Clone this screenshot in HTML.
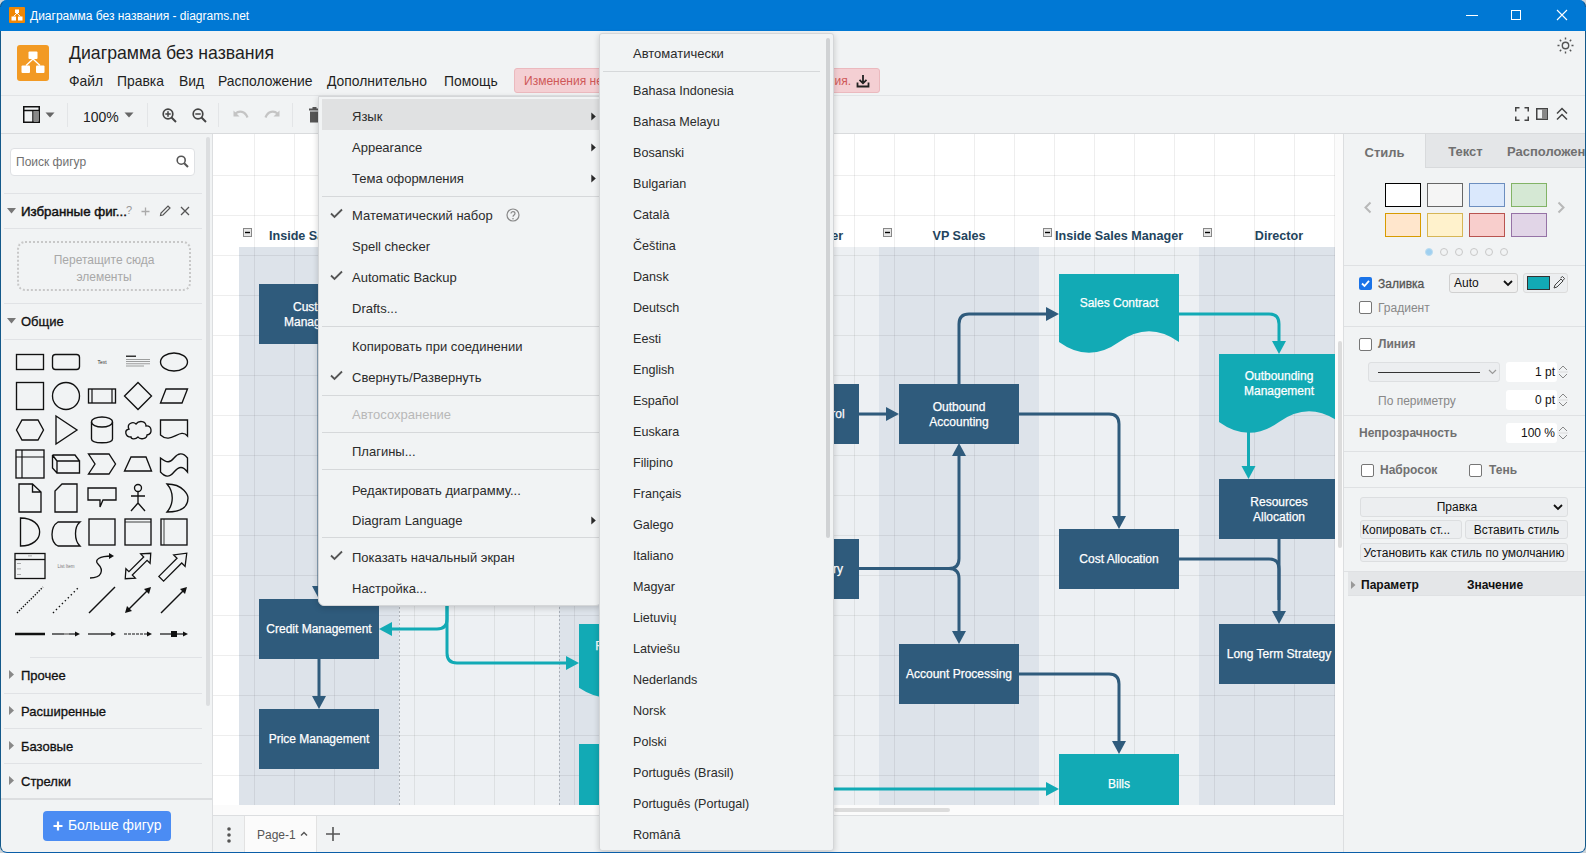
<!DOCTYPE html>
<html><head><meta charset="utf-8"><title>diagrams.net</title>
<style>
*{box-sizing:border-box;margin:0;padding:0}
html,body{width:1586px;height:853px;overflow:hidden}
body{position:relative;background:#f1f3f4;font-family:"Liberation Sans",sans-serif;color:#000}
.a{position:absolute}
.t{position:absolute;white-space:nowrap;line-height:1}
.sep{position:absolute;height:1px;background:#dadce0}
</style></head><body>
<div class="a" style="left:0;top:0;width:1586px;height:31px;background:#0078d4"></div>
<svg class="a" style="left:9px;top:7px" width="16" height="16" viewBox="0 0 16 16">
<rect x="0" y="0" width="16" height="16" rx="1" fill="#f08705"/>
<rect x="6" y="2.5" width="4" height="3.5" fill="#fff"/>
<rect x="2.5" y="9.5" width="4.5" height="4" fill="#fff"/>
<rect x="9" y="9.5" width="4.5" height="4" fill="#fff"/>
<path d="M8 6 L4.7 9.5 M8 6 L11.3 9.5" stroke="#fff" stroke-width="1"/>
</svg>
<div class="t" style="left:30px;top:10px;font-size:12px;color:#fff">Диаграмма без названия - diagrams.net</div>
<div class="a" style="left:1466px;top:15px;width:12px;height:1px;background:#fff"></div>
<div class="a" style="left:1511px;top:10px;width:10px;height:10px;border:1px solid #fff"></div>
<svg class="a" style="left:1556px;top:9px" width="12" height="12" viewBox="0 0 12 12"><path d="M1 1L11 11M11 1L1 11" stroke="#fff" stroke-width="1.1"/></svg>
<div class="a" style="left:0;top:31px;width:1586px;height:65px;background:#f1f3f4"></div>
<svg class="a" style="left:17px;top:45px" width="32" height="36" viewBox="0 0 32 36">
<rect x="0" y="0" width="32" height="36" rx="3" fill="#f29a24"/>
<rect x="11.5" y="6.5" width="9" height="7.5" rx="1" fill="#fff"/>
<rect x="4.5" y="20.5" width="8.5" height="7.5" rx="1" fill="#fff"/>
<rect x="19" y="20.5" width="8.5" height="7.5" rx="1" fill="#fff"/>
<path d="M16 14 L9 20.5 M16 14 L23 20.5" stroke="#fff" stroke-width="1.3"/>
</svg>
<div class="t" style="left:69px;top:45px;font-size:17.7px;color:#1f1f1f">Диаграмма без названия</div>
<div class="t" style="left:69px;top:75px;font-size:13.9px;color:#1f1f1f">Файл</div>
<div class="t" style="left:117px;top:75px;font-size:13.9px;color:#1f1f1f">Правка</div>
<div class="t" style="left:179px;top:75px;font-size:13.9px;color:#1f1f1f">Вид</div>
<div class="t" style="left:218px;top:75px;font-size:13.9px;color:#1f1f1f">Расположение</div>
<div class="t" style="left:327px;top:75px;font-size:13.9px;color:#1f1f1f">Дополнительно</div>
<div class="t" style="left:444px;top:75px;font-size:13.9px;color:#1f1f1f">Помощь</div>
<div class="a" style="left:514px;top:68px;width:366px;height:25px;background:#f4cfd3;border:1px solid #ebb9be;border-radius:3px"></div>
<div class="t" style="left:524px;top:75px;font-size:12px;color:#cf5858">Изменения не сохранены</div>
<div class="t" style="left:700px;top:75px;width:151px;text-align:right;font-size:12px;color:#cf5858">для сохранения.</div>
<svg class="a" style="left:856px;top:74px" width="14" height="14" viewBox="0 0 14 14"><path d="M7 1V9M3.5 5.8L7 9.3L10.5 5.8M1.5 8.5V12.5H12.5V8.5" stroke="#222" stroke-width="1.8" fill="none"/></svg>
<svg class="a" style="left:1557px;top:37px" width="17" height="17" viewBox="0 0 17 17"><circle cx="8.5" cy="8.5" r="3.2" stroke="#555" stroke-width="1.4" fill="none"/>
<g stroke="#555" stroke-width="1.4"><path d="M8.5 0.5V2.5M8.5 14.5V16.5M0.5 8.5H2.5M14.5 8.5H16.5M2.8 2.8L4.2 4.2M12.8 12.8L14.2 14.2M2.8 14.2L4.2 12.8M12.8 4.2L14.2 2.8"/></g></svg>
<div class="a" style="left:0;top:95px;width:1586px;height:1px;background:#e2e4e6"></div>
<div class="a" style="left:0;top:96px;width:1586px;height:38px;background:#f1f3f4"></div>
<div class="a" style="left:0;top:133px;width:1586px;height:1px;background:#d9dbdd"></div>
<div class="a" style="left:67px;top:103px;width:1px;height:24px;background:#e3e5e7"></div>
<div class="a" style="left:147px;top:103px;width:1px;height:24px;background:#e3e5e7"></div>
<div class="a" style="left:218px;top:103px;width:1px;height:24px;background:#e3e5e7"></div>
<div class="a" style="left:292px;top:103px;width:1px;height:24px;background:#e3e5e7"></div>
<svg class="a" style="left:23px;top:106px" width="17" height="17" viewBox="0 0 17 17"><rect x="0.75" y="0.75" width="15.5" height="15.5" fill="none" stroke="#111" stroke-width="1.5"/><path d="M0.75 4.5H16.25M10 4.5V16.25" stroke="#111" stroke-width="1.5"/><rect x="10.5" y="5" width="5" height="10.5" fill="#888"/></svg>
<svg class="a" style="left:45px;top:112px" width="10" height="6" viewBox="0 0 10 6"><path d="M0.5 0.5H9.5L5 5.5Z" fill="#666"/></svg>
<div class="t" style="left:83px;top:110px;font-size:14px;color:#222">100%</div>
<svg class="a" style="left:124px;top:112px" width="10" height="6" viewBox="0 0 10 6"><path d="M0.5 0.5H9.5L5 5.5Z" fill="#666"/></svg>
<svg class="a" style="left:162px;top:108px" width="15" height="15" viewBox="0 0 15 15"><circle cx="6" cy="6" r="4.8" fill="none" stroke="#444" stroke-width="1.7"/><path d="M9.5 9.5L14 14" stroke="#444" stroke-width="2"/><path d="M3.3 6H8.7M6 3.3V8.7" stroke="#444" stroke-width="1.5"/></svg>
<svg class="a" style="left:192px;top:108px" width="15" height="15" viewBox="0 0 15 15"><circle cx="6" cy="6" r="4.8" fill="none" stroke="#444" stroke-width="1.7"/><path d="M9.5 9.5L14 14" stroke="#444" stroke-width="2"/><path d="M3.3 6H8.7" stroke="#444" stroke-width="1.5"/></svg>
<svg class="a" style="left:233px;top:109px" width="16" height="12" viewBox="0 0 16 12"><path d="M2.5 4.5C6 1.5 12 2 14.5 8.5" stroke="#c4c4c4" stroke-width="2.2" fill="none"/><path d="M0.5 1.5V7.5H6.5Z" fill="#c4c4c4"/></svg>
<svg class="a" style="left:264px;top:109px" width="16" height="12" viewBox="0 0 16 12"><path d="M13.5 4.5C10 1.5 4 2 1.5 8.5" stroke="#c4c4c4" stroke-width="2.2" fill="none"/><path d="M15.5 1.5V7.5H9.5Z" fill="#c4c4c4"/></svg>
<svg class="a" style="left:308px;top:107px" width="13" height="16" viewBox="0 0 13 16"><rect x="1" y="1.5" width="11" height="2" fill="#555"/><rect x="4.5" y="0" width="4" height="2" fill="#555"/><rect x="2" y="4.5" width="9" height="11" fill="#555"/></svg>
<svg class="a" style="left:1515px;top:107px" width="14" height="14" viewBox="0 0 14 14"><path d="M0.75 4.5V0.75H4.5M9.5 0.75H13.25V4.5M13.25 9.5V13.25H9.5M4.5 13.25H0.75V9.5" stroke="#444" stroke-width="1.5" fill="none"/></svg>
<svg class="a" style="left:1536px;top:108px" width="12" height="12" viewBox="0 0 12 12"><rect x="0.75" y="0.75" width="10.5" height="10.5" fill="none" stroke="#444" stroke-width="1.5"/><rect x="6" y="1" width="5" height="10" fill="#888"/></svg>
<svg class="a" style="left:1556px;top:107px" width="12" height="14" viewBox="0 0 12 14"><path d="M1 6.5L6 1.5L11 6.5M1 12.5L6 7.5L11 12.5" stroke="#444" stroke-width="1.5" fill="none"/></svg>
<div class="a" style="left:0;top:134px;width:212px;height:719px;background:#f1f3f4"></div>
<div class="a" style="left:212px;top:134px;width:1px;height:719px;background:#dcdee0"></div>
<div class="a" style="left:206px;top:137px;width:4px;height:569px;background:#dcdee0;border-radius:2px"></div>
<div class="a" style="left:10px;top:148px;width:185px;height:28px;background:#fff;border:1px solid #dfe1e4;border-radius:4px"></div>
<div class="t" style="left:16px;top:156px;font-size:12px;color:#707070">Поиск фигур</div>
<svg class="a" style="left:176px;top:155px" width="13" height="13" viewBox="0 0 13 13"><circle cx="5.2" cy="5.2" r="4" fill="none" stroke="#555" stroke-width="1.6"/><path d="M8.2 8.2L12 12" stroke="#555" stroke-width="2"/></svg>
<div class="sep" style="left:4px;top:193px;width:198px;background:#e0e2e5"></div>
<div class="sep" style="left:4px;top:228px;width:198px;background:#e0e2e5"></div>
<div class="sep" style="left:4px;top:303px;width:198px;background:#e0e2e5"></div>
<div class="sep" style="left:4px;top:339px;width:198px;background:#e0e2e5"></div>
<svg class="a" style="left:7px;top:208px" width="9" height="6" viewBox="0 0 9 6"><path d="M0 0H9L4.5 5.5Z" fill="#777"/></svg>
<div class="t" style="left:21px;top:205px;font-size:13.3px;color:#111;-webkit-text-stroke:0.45px #111">Избранные фиг...</div>
<div class="t" style="left:126px;top:205px;font-size:11px;color:#999">?</div>
<svg class="a" style="left:141px;top:207px" width="9" height="9" viewBox="0 0 9 9"><path d="M4.5 0.5V8.5M0.5 4.5H8.5" stroke="#aaa" stroke-width="1.3"/></svg>
<svg class="a" style="left:159px;top:205px" width="12" height="12" viewBox="0 0 12 12"><path d="M1.5 10.5L2 8L9 1L11 3L4 10Z" fill="none" stroke="#555" stroke-width="1.2"/></svg>
<svg class="a" style="left:180px;top:206px" width="10" height="10" viewBox="0 0 10 10"><path d="M1 1L9 9M9 1L1 9" stroke="#555" stroke-width="1.3"/></svg>
<div class="a" style="left:17px;top:241px;width:174px;height:50px;border:2px dotted #c8c8c8;border-radius:8px"></div>
<div class="t" style="left:17px;top:252px;width:174px;text-align:center;font-size:12px;color:#a8a8a8;line-height:17px">Перетащите сюда<br>элементы</div>
<svg class="a" style="left:7px;top:318px" width="9" height="6" viewBox="0 0 9 6"><path d="M0 0H9L4.5 5.5Z" fill="#777"/></svg>
<div class="t" style="left:21px;top:315px;font-size:13px;color:#111;-webkit-text-stroke:0.3px #111">Общие</div>
<svg class="a" style="left:1px;top:340px" width="205" height="315" viewBox="0 340 205 315"><g transform="translate(29,362)"><rect x="-13.5" y="-7.5" width="27" height="15" stroke="#111" stroke-width="1.35" fill="none"/></g><g transform="translate(65,362)"><rect x="-13.5" y="-7.5" width="27" height="15" rx="3" stroke="#111" stroke-width="1.35" fill="none"/></g><g transform="translate(101,362)"><text x="0" y="2" font-size="5" text-anchor="middle" fill="#333" font-family="Liberation Sans">Text</text></g><g transform="translate(137,362)"><rect x="-12" y="-6.5" width="10" height="1.5" fill="#333"/><g fill="#888"><rect x="-12" y="-3" width="24" height="0.8"/><rect x="-12" y="-0.8" width="24" height="0.8"/><rect x="-12" y="1.4" width="24" height="0.8"/><rect x="-12" y="3.6" width="18" height="0.8"/></g></g><g transform="translate(173,362)"><ellipse cx="0" cy="0" rx="13.5" ry="9" stroke="#111" stroke-width="1.35" fill="none"/></g><g transform="translate(29,396)"><rect x="-13.5" y="-13.5" width="27" height="27" stroke="#111" stroke-width="1.35" fill="none"/></g><g transform="translate(65,396)"><circle cx="0" cy="0" r="13.5" stroke="#111" stroke-width="1.35" fill="none"/></g><g transform="translate(101,396)"><rect x="-13.5" y="-7" width="27" height="14" stroke="#111" stroke-width="1.35" fill="none"/><path d="M-10 -7V7M10 -7V7" stroke="#111" stroke-width="1.2"/></g><g transform="translate(137,396)"><path d="M0 -13.5L13.5 0L0 13.5L-13.5 0Z" stroke="#111" stroke-width="1.35" fill="none"/></g><g transform="translate(173,396)"><path d="M-8 -7H13.5L8 7H-13.5Z" stroke="#111" stroke-width="1.35" fill="none"/></g><g transform="translate(29,430)"><path d="M-8 -10H8L13.5 0L8 10H-8L-13.5 0Z" stroke="#111" stroke-width="1.35" fill="none"/></g><g transform="translate(65,430)"><path d="M-10 -14L11 0L-10 14Z" stroke="#111" stroke-width="1.35" fill="none"/></g><g transform="translate(101,430)"><path d="M-10.5 -8V9C-10.5 14 10.5 14 10.5 9V-8" stroke="#111" stroke-width="1.35" fill="none"/><ellipse cx="0" cy="-8" rx="10.5" ry="5" stroke="#111" stroke-width="1.35" fill="none"/></g><g transform="translate(137,430)"><path d="M-7 7C-13 7 -14 0 -9 -1C-12 -6 -5 -9 -2 -6C1 -10 8 -9 8 -4C14 -5 15 4 9 5C9 9 2 10 0 7C-3 10 -7 9 -7 7Z" stroke="#111" stroke-width="1.35" fill="none"/></g><g transform="translate(173,430)"><path d="M-13.5 -10H13.5V6C6 -3 -3 15 -13.5 5Z" stroke="#111" stroke-width="1.35" fill="none"/></g><g transform="translate(29,464)"><rect x="-14" y="-14" width="28" height="28" stroke="#111" stroke-width="1.35" fill="none" stroke-width="1.5"/><path d="M-14 -7H14M-8 -14V14" stroke="#111" stroke-width="1.2"/></g><g transform="translate(65,464)"><path d="M-9 -3H13.5V9H-9Z M-13.5 -9H9L13.5 -3M-13.5 -9V4L-9 9M-13.5 -9L-9 -3" stroke="#111" stroke-width="1.35" fill="none"/></g><g transform="translate(101,464)"><path d="M-13.5 -10H7L13.5 0L7 10H-13.5L-7 0Z" stroke="#111" stroke-width="1.35" fill="none"/></g><g transform="translate(137,464)"><path d="M-7 -7H8L13.5 7H-13.5Z" stroke="#111" stroke-width="1.35" fill="none"/></g><g transform="translate(173,464)"><path d="M-13.5 -6C-7 -1 -4 -1 0 -6C4 -11 9 -12 13.5 -6V8C9 2 5 2 0 8C-5 14 -9 13 -13.5 8Z" stroke="#111" stroke-width="1.35" fill="none"/></g><g transform="translate(29,498)"><path d="M-11 -14H2.5L11 -6V14H-11Z M2.5 -14V-6H11" stroke="#111" stroke-width="1.35" fill="none"/></g><g transform="translate(65,498)"><path d="M-4 -14H11V14H-11V-7Z" stroke="#111" stroke-width="1.35" fill="none"/></g><g transform="translate(101,498)"><path d="M-14 -10H14V2H1L-2 9V2H-14Z" stroke="#111" stroke-width="1.35" fill="none"/></g><g transform="translate(137,498)"><circle cx="0" cy="-10" r="3.5" stroke="#111" stroke-width="1.35" fill="none"/><path d="M0 -6.5V5M-7 -2H7M0 5L-7 13M0 5L7 13" stroke="#111" stroke-width="1.35" fill="none"/></g><g transform="translate(173,498)"><path d="M-7 -14C10 -14 14 -2 14 0C14 8 8 14 -7 14C0 6 0 -6 -7 -14Z" stroke="#111" stroke-width="1.35" fill="none"/></g><g transform="translate(29,532)"><path d="M-9.5 -14C16 -14 16 14 -9.5 14Z" stroke="#111" stroke-width="1.35" fill="none"/></g><g transform="translate(65,532)"><path d="M-8 -10H14C8 -5 8 8 14 14H-8C-16 10 -16 -5 -8 -10Z" stroke="#111" stroke-width="1.35" fill="none"/></g><g transform="translate(101,532)"><rect x="-13" y="-13" width="26" height="26" stroke="#111" stroke-width="1.35" fill="none"/></g><g transform="translate(137,532)"><rect x="-13" y="-13" width="26" height="26" stroke="#111" stroke-width="1.35" fill="none"/><path d="M-13 -10H13" stroke="#111" stroke-width="0.8"/></g><g transform="translate(173,532)"><rect x="-13" y="-13" width="26" height="26" stroke="#111" stroke-width="1.35" fill="none"/><path d="M-10 -13V13" stroke="#111" stroke-width="0.8"/></g><g transform="translate(29,566)"><rect x="-15" y="-12.5" width="30" height="25" stroke="#111" stroke-width="1.3" fill="none"/><path d="M-15 -6.5H15" stroke="#111" stroke-width="1.3"/><g fill="#999"><rect x="-13" y="-3" width="4" height="0.8"/><rect x="-13" y="2.5" width="4" height="0.8"/><rect x="-13" y="8" width="4" height="0.8"/><rect x="-2" y="-10.5" width="4" height="0.8"/></g></g><g transform="translate(65,566)"><text x="0" y="1.5" font-size="4.5" text-anchor="middle" fill="#777" font-family="Liberation Sans">List Item</text></g><g transform="translate(101,566)"><path d="M-12 12C0 12 2 4 -4 -2C-8 -6 -3 -10 10 -10" stroke="#111" stroke-width="1.35" fill="none"/><path d="M7 -13L12 -10L7 -7" fill="#111"/></g><g transform="translate(137,566)"><g transform="rotate(-45) scale(0.95)"><path d="M-19 0L-11 -7V-2.5H11V-7L19 0L11 7V2.5H-11V7Z" stroke="#111" stroke-width="1.35" fill="none"/></g></g><g transform="translate(173,566)"><g transform="rotate(-45) scale(0.95)"><path d="M-19 -3.5H8V-8.5L19 0L8 8.5V3.5H-19Z" stroke="#111" stroke-width="1.35" fill="none"/></g></g><g transform="translate(29,600)"><path d="M-13 13L13 -13" stroke="#111" stroke-width="1.4" stroke-dasharray="1.4,1.4"/></g><g transform="translate(65,600)"><path d="M-13 13L13 -13" stroke="#111" stroke-width="1.4" stroke-dasharray="1.4,2.8"/></g><g transform="translate(101,600)"><path d="M-13 13L13 -13" stroke="#111" stroke-width="1.4"/></g><g transform="translate(137,600)"><path d="M-10 10L10 -10" stroke="#111" stroke-width="1.4"/><path d="M-13 13L-11 6L-6 11Z M13 -13L11 -6L6 -11Z" fill="#111"/></g><g transform="translate(173,600)"><path d="M-13 13L10 -10" stroke="#111" stroke-width="1.4"/><path d="M13 -13L11 -6L6 -11Z" fill="#111"/></g><g transform="translate(29,634)"><path d="M-15 0H15" stroke="#111" stroke-width="2.5"/></g><g transform="translate(65,634)"><path d="M-14 0H11" stroke="#111" stroke-width="1.2"/><path d="M14 0L9 -2.5V2.5Z" fill="#111"/><rect x="-2" y="-1" width="5" height="2" fill="#999"/></g><g transform="translate(101,634)"><path d="M-14 0H11" stroke="#111" stroke-width="1.2"/><path d="M14 0L9 -2.5V2.5Z" fill="#111"/></g><g transform="translate(137,634)"><path d="M-14 0H11" stroke="#111" stroke-width="1.2" stroke-dasharray="3,1"/><path d="M14 0L9 -2.5V2.5Z" fill="#111"/></g><g transform="translate(173,634)"><path d="M-14 0H11" stroke="#111" stroke-width="1.2"/><path d="M14 0L9 -2.5V2.5Z" fill="#111"/><rect x="-3" y="-3" width="6" height="6" fill="#111"/></g></svg>
<div class="sep" style="left:30px;top:657px;width:172px;background:#e0e2e5"></div>
<svg class="a" style="left:9px;top:670px" width="5" height="9" viewBox="0 0 5 9"><path d="M0 0V9L5 4.5Z" fill="#888"/></svg>
<div class="t" style="left:21px;top:669px;font-size:13px;color:#111;-webkit-text-stroke:0.3px #111">Прочее</div>
<svg class="a" style="left:9px;top:706px" width="5" height="9" viewBox="0 0 5 9"><path d="M0 0V9L5 4.5Z" fill="#888"/></svg>
<div class="t" style="left:21px;top:705px;font-size:13px;color:#111;-webkit-text-stroke:0.3px #111">Расширенные</div>
<svg class="a" style="left:9px;top:741px" width="5" height="9" viewBox="0 0 5 9"><path d="M0 0V9L5 4.5Z" fill="#888"/></svg>
<div class="t" style="left:21px;top:740px;font-size:13px;color:#111;-webkit-text-stroke:0.3px #111">Базовые</div>
<svg class="a" style="left:9px;top:776px" width="5" height="9" viewBox="0 0 5 9"><path d="M0 0V9L5 4.5Z" fill="#888"/></svg>
<div class="t" style="left:21px;top:775px;font-size:13px;color:#111;-webkit-text-stroke:0.3px #111">Стрелки</div>
<div class="sep" style="left:4px;top:693px;width:198px;background:#e0e2e5"></div>
<div class="sep" style="left:4px;top:728px;width:198px;background:#e0e2e5"></div>
<div class="sep" style="left:4px;top:763px;width:198px;background:#e0e2e5"></div>
<div class="sep" style="left:0px;top:798px;width:212px;height:2px;background:#dcdee0"></div>
<div class="a" style="left:43px;top:811px;width:128px;height:30px;background:#4b8cf3;border-radius:4px"></div>
<svg class="a" style="left:53px;top:821px" width="10" height="10" viewBox="0 0 10 10"><path d="M5 0.5V9.5M0.5 5H9.5" stroke="#fff" stroke-width="2.2"/></svg>
<div class="t" style="left:68px;top:819px;font-size:13.9px;color:#fff">Больше фигур</div>
<div class="a" style="left:213px;top:134px;width:1131px;height:681px;background:#fbfbfb"></div>
<svg class="a" style="left:213px;top:134px" width="1122" height="671" viewBox="213 134 1122 671"><rect x="213" y="134" width="1122" height="671" fill="#ffffff"/><rect x="239" y="247" width="160" height="558" fill="#dde3ea"/><rect x="399" y="247" width="160" height="558" fill="#edf0f3"/><rect x="559" y="247" width="160" height="558" fill="#dde3ea"/><rect x="719" y="247" width="160" height="558" fill="#edf0f3"/><rect x="879" y="247" width="160" height="558" fill="#dde3ea"/><rect x="1039" y="247" width="160" height="558" fill="#edf0f3"/><rect x="1199" y="247" width="136" height="558" fill="#dde3ea"/><path d="M254.5 134V805M294.5 134V805M334.5 134V805M374.5 134V805M414.5 134V805M454.5 134V805M494.5 134V805M534.5 134V805M574.5 134V805M614.5 134V805M654.5 134V805M694.5 134V805M734.5 134V805M774.5 134V805M814.5 134V805M854.5 134V805M894.5 134V805M934.5 134V805M974.5 134V805M1014.5 134V805M1054.5 134V805M1094.5 134V805M1134.5 134V805M1174.5 134V805M1214.5 134V805M1254.5 134V805M1294.5 134V805M1334.5 134V805M213 175.5H1335M213 215.5H1335M213 255.5H1335M213 295.5H1335M213 335.5H1335M213 375.5H1335M213 415.5H1335M213 455.5H1335M213 495.5H1335M213 535.5H1335M213 575.5H1335M213 615.5H1335M213 655.5H1335M213 695.5H1335M213 735.5H1335M213 775.5H1335" stroke="#000" stroke-opacity="0.065" stroke-width="1"/><path d="M399.5 247V805M559.5 247V805" stroke="#8a9099" stroke-width="1" stroke-dasharray="2,2" opacity="0.6"/><text x="319" y="239.5" font-family="Liberation Sans" font-weight="bold" font-size="12.6" fill="#23445d" text-anchor="middle">Inside Sales Rep</text><text x="799" y="239.5" font-family="Liberation Sans" font-weight="bold" font-size="12.6" fill="#23445d" text-anchor="middle">Sales Manager</text><text x="959" y="239.5" font-family="Liberation Sans" font-weight="bold" font-size="12.6" fill="#23445d" text-anchor="middle">VP Sales</text><text x="1119" y="239.5" font-family="Liberation Sans" font-weight="bold" font-size="12.6" fill="#23445d" text-anchor="middle">Inside Sales Manager</text><text x="1279" y="239.5" font-family="Liberation Sans" font-weight="bold" font-size="12.6" fill="#23445d" text-anchor="middle">Director</text><rect x="243.5" y="228.5" width="8" height="8" fill="#e6e6e6" stroke="#888" stroke-width="1"/><path d="M245 232.5H250" stroke="#000" stroke-width="1.4"/><rect x="403.5" y="228.5" width="8" height="8" fill="#e6e6e6" stroke="#888" stroke-width="1"/><path d="M405 232.5H410" stroke="#000" stroke-width="1.4"/><rect x="563.5" y="228.5" width="8" height="8" fill="#e6e6e6" stroke="#888" stroke-width="1"/><path d="M565 232.5H570" stroke="#000" stroke-width="1.4"/><rect x="723.5" y="228.5" width="8" height="8" fill="#e6e6e6" stroke="#888" stroke-width="1"/><path d="M725 232.5H730" stroke="#000" stroke-width="1.4"/><rect x="883.5" y="228.5" width="8" height="8" fill="#e6e6e6" stroke="#888" stroke-width="1"/><path d="M885 232.5H890" stroke="#000" stroke-width="1.4"/><rect x="1043.5" y="228.5" width="8" height="8" fill="#e6e6e6" stroke="#888" stroke-width="1"/><path d="M1045 232.5H1050" stroke="#000" stroke-width="1.4"/><rect x="1203.5" y="228.5" width="8" height="8" fill="#e6e6e6" stroke="#888" stroke-width="1"/><path d="M1205 232.5H1210" stroke="#000" stroke-width="1.4"/><path d="M319 344V590" stroke="#2f5b7c" stroke-width="3" fill="none" stroke-linejoin="round"/><path d="M319 599L312 586L326 586Z" fill="#2f5b7c"/><path d="M319 659V698" stroke="#2f5b7c" stroke-width="3" fill="none" stroke-linejoin="round"/><path d="M319 709L312 696L326 696Z" fill="#2f5b7c"/><path d="M447 560V619Q447 629 437 629H390" stroke="#12aab5" stroke-width="3" fill="none" stroke-linejoin="round"/><path d="M379 629L392 622L392 636Z" fill="#12aab5"/><path d="M447 600V653Q447 663 457 663H568" stroke="#12aab5" stroke-width="3" fill="none" stroke-linejoin="round"/><path d="M579 663L566 656L566 670Z" fill="#12aab5"/><path d="M859 414H888" stroke="#2f5b7c" stroke-width="3" fill="none" stroke-linejoin="round"/><path d="M899 414L886 407L886 421Z" fill="#2f5b7c"/><path d="M959 384V324Q959 314 969 314H1048" stroke="#2f5b7c" stroke-width="3" fill="none" stroke-linejoin="round"/><path d="M1059 314L1046 307L1046 321Z" fill="#2f5b7c"/><path d="M1019 414H1109Q1119 414 1119 424V518" stroke="#2f5b7c" stroke-width="3" fill="none" stroke-linejoin="round"/><path d="M1119 529L1112 516L1126 516Z" fill="#2f5b7c"/><path d="M1179 314H1269Q1279 314 1279 324V343" stroke="#12aab5" stroke-width="3" fill="none" stroke-linejoin="round"/><path d="M1279 354L1272 341L1286 341Z" fill="#12aab5"/><path d="M1248.5 425V468" stroke="#12aab5" stroke-width="3" fill="none" stroke-linejoin="round"/><path d="M1248.5 479L1241.5 466L1255.5 466Z" fill="#12aab5"/><path d="M859 568.5H949Q959 568.5 959 558.5V454" stroke="#2f5b7c" stroke-width="3" fill="none" stroke-linejoin="round"/><path d="M959 443L952 456L966 456Z" fill="#2f5b7c"/><path d="M949 568.5Q959 568.5 959 578.5V633" stroke="#2f5b7c" stroke-width="3" fill="none" stroke-linejoin="round"/><path d="M959 644L952 631L966 631Z" fill="#2f5b7c"/><path d="M1179 559H1269Q1279 559 1279 569V613" stroke="#2f5b7c" stroke-width="3" fill="none" stroke-linejoin="round"/><path d="M1279 539V600" stroke="#2f5b7c" stroke-width="3" fill="none" stroke-linejoin="round"/><path d="M1279 624L1272 611L1286 611Z" fill="#2f5b7c"/><path d="M1019 674H1109Q1119 674 1119 684V743" stroke="#2f5b7c" stroke-width="3" fill="none" stroke-linejoin="round"/><path d="M1119 754L1112 741L1126 741Z" fill="#2f5b7c"/><path d="M700 789H1048" stroke="#12aab5" stroke-width="3" fill="none" stroke-linejoin="round"/><path d="M1059 789L1046 782L1046 796Z" fill="#12aab5"/><rect x="259" y="284" width="120" height="60" fill="#2f5b7c"/><text x="319.0" y="310.5" font-family="Liberation Sans" font-size="12" fill="#fff" stroke="#fff" stroke-width="0.25" text-anchor="middle">Customer</text><text x="319.0" y="325.5" font-family="Liberation Sans" font-size="12" fill="#fff" stroke="#fff" stroke-width="0.25" text-anchor="middle">Management</text><rect x="259" y="599" width="120" height="60" fill="#2f5b7c"/><text x="319.0" y="633.0" font-family="Liberation Sans" font-size="12" fill="#fff" stroke="#fff" stroke-width="0.25" text-anchor="middle">Credit Management</text><rect x="259" y="709" width="120" height="60" fill="#2f5b7c"/><text x="319.0" y="743.0" font-family="Liberation Sans" font-size="12" fill="#fff" stroke="#fff" stroke-width="0.25" text-anchor="middle">Price Management</text><path d="M579 624H699V687.75Q669.0 667.5 639.0 687.75Q609.0 708.0 579 687.75Z" fill="#12aab5"/><text x="639.0" y="649.5" font-family="Liberation Sans" font-size="12" fill="#fff" stroke="#fff" stroke-width="0.25" text-anchor="middle">Financial Report</text><text x="639.0" y="664.5" font-family="Liberation Sans" font-size="12" fill="#fff" stroke="#fff" stroke-width="0.25" text-anchor="middle">Flow</text><rect x="579" y="744" width="120" height="70" fill="#12aab5"/><text x="639.0" y="783.0" font-family="Liberation Sans" font-size="12" fill="#fff" stroke="#fff" stroke-width="0.25" text-anchor="middle"></text><rect x="739" y="384" width="120" height="60" fill="#2f5b7c"/><text x="799.0" y="418.0" font-family="Liberation Sans" font-size="12" fill="#fff" stroke="#fff" stroke-width="0.25" text-anchor="middle">Inventory Control</text><rect x="739" y="539" width="120" height="60" fill="#2f5b7c"/><text x="799.0" y="573.0" font-family="Liberation Sans" font-size="12" fill="#fff" stroke="#fff" stroke-width="0.25" text-anchor="middle">Product Delivery</text><rect x="899" y="384" width="120" height="60" fill="#2f5b7c"/><text x="959.0" y="410.5" font-family="Liberation Sans" font-size="12" fill="#fff" stroke="#fff" stroke-width="0.25" text-anchor="middle">Outbound</text><text x="959.0" y="425.5" font-family="Liberation Sans" font-size="12" fill="#fff" stroke="#fff" stroke-width="0.25" text-anchor="middle">Accounting</text><rect x="899" y="644" width="120" height="60" fill="#2f5b7c"/><text x="959.0" y="678.0" font-family="Liberation Sans" font-size="12" fill="#fff" stroke="#fff" stroke-width="0.25" text-anchor="middle">Account Processing</text><path d="M1059 274H1179V342.0Q1149.0 320.4 1119.0 342.0Q1089.0 363.6 1059 342.0Z" fill="#12aab5"/><text x="1119.0" y="306.5" font-family="Liberation Sans" font-size="12" fill="#fff" stroke="#fff" stroke-width="0.25" text-anchor="middle">Sales Contract</text><rect x="1059" y="529" width="120" height="60" fill="#2f5b7c"/><text x="1119.0" y="563.0" font-family="Liberation Sans" font-size="12" fill="#fff" stroke="#fff" stroke-width="0.25" text-anchor="middle">Cost Allocation</text><rect x="1059" y="754" width="120" height="60" fill="#12aab5"/><text x="1119.0" y="788.0" font-family="Liberation Sans" font-size="12" fill="#fff" stroke="#fff" stroke-width="0.25" text-anchor="middle">Bills</text><path d="M1219 354H1339V422.0Q1309.0 400.4 1279.0 422.0Q1249.0 443.6 1219 422.0Z" fill="#12aab5"/><text x="1279.0" y="380" font-family="Liberation Sans" font-size="12" fill="#fff" stroke="#fff" stroke-width="0.25" text-anchor="middle">Outbounding</text><text x="1279.0" y="395" font-family="Liberation Sans" font-size="12" fill="#fff" stroke="#fff" stroke-width="0.25" text-anchor="middle">Management</text><rect x="1219" y="479" width="120" height="60" fill="#2f5b7c"/><text x="1279.0" y="505.5" font-family="Liberation Sans" font-size="12" fill="#fff" stroke="#fff" stroke-width="0.25" text-anchor="middle">Resources</text><text x="1279.0" y="520.5" font-family="Liberation Sans" font-size="12" fill="#fff" stroke="#fff" stroke-width="0.25" text-anchor="middle">Allocation</text><rect x="1219" y="624" width="120" height="60" fill="#2f5b7c"/><text x="1279.0" y="658.0" font-family="Liberation Sans" font-size="12" fill="#fff" stroke="#fff" stroke-width="0.25" text-anchor="middle">Long Term Strategy</text></svg>
<div class="a" style="left:1338px;top:341px;width:4px;height:207px;background:#dcdcdc;border-radius:2px"></div>
<div class="a" style="left:834px;top:808px;width:116px;height:4px;background:#dcdcdc;border-radius:2px"></div>
<div class="a" style="left:213px;top:815px;width:1131px;height:38px;background:#f1f3f4;border-top:1px solid #dcdee0"></div>
<svg class="a" style="left:226px;top:826px" width="6" height="18" viewBox="0 0 6 18"><circle cx="3" cy="3" r="1.8" fill="#555"/><circle cx="3" cy="9" r="1.8" fill="#555"/><circle cx="3" cy="15" r="1.8" fill="#555"/></svg>
<div class="a" style="left:244px;top:816px;width:73px;height:37px;background:#fbfbfb;border-left:1px solid #e2e2e2;border-right:1px solid #e2e2e2"></div>
<div class="t" style="left:257px;top:829px;font-size:12px;color:#555">Page-1</div>
<svg class="a" style="left:300px;top:831px" width="8" height="5" viewBox="0 0 8 5"><path d="M1 4.5L4 1.5L7 4.5" stroke="#555" stroke-width="1.4" fill="none"/></svg>
<svg class="a" style="left:326px;top:827px" width="14" height="14" viewBox="0 0 14 14"><path d="M7 0V14M0 7H14" stroke="#555" stroke-width="1.6"/></svg>
<div class="a" style="left:1343px;top:134px;width:1px;height:719px;background:#dcdee0"></div>
<div class="a" style="left:1344px;top:134px;width:242px;height:719px;background:#f1f3f4"></div>
<div class="a" style="left:1425px;top:134px;width:161px;height:34px;background:#e4e6e8;border-left:1px solid #d8dadc;border-bottom:1px solid #d8dadc"></div>
<div class="t" style="left:1344px;top:146px;width:81px;text-align:center;font-size:13px;font-weight:bold;color:#707070">Стиль</div>
<div class="t" style="left:1425px;top:145px;width:81px;text-align:center;font-size:13px;font-weight:bold;color:#707070">Текст</div>
<div class="t" style="left:1507px;top:145px;font-size:13px;font-weight:bold;color:#707070">Расположение</div>
<div class="a" style="left:1385px;top:183px;width:36px;height:24px;background:#ffffff;border:1.2px solid #000000"></div>
<div class="a" style="left:1427px;top:183px;width:36px;height:24px;background:#f5f5f5;border:1.2px solid #666666"></div>
<div class="a" style="left:1469px;top:183px;width:36px;height:24px;background:#dae8fc;border:1.2px solid #6c8ebf"></div>
<div class="a" style="left:1511px;top:183px;width:36px;height:24px;background:#d5e8d4;border:1.2px solid #82b366"></div>
<div class="a" style="left:1385px;top:213px;width:36px;height:24px;background:#ffe6cc;border:1.2px solid #d79b00"></div>
<div class="a" style="left:1427px;top:213px;width:36px;height:24px;background:#fff2cc;border:1.2px solid #d6b656"></div>
<div class="a" style="left:1469px;top:213px;width:36px;height:24px;background:#f8cecc;border:1.2px solid #b85450"></div>
<div class="a" style="left:1511px;top:213px;width:36px;height:24px;background:#e1d5e7;border:1.2px solid #9673a6"></div>
<svg class="a" style="left:1364px;top:201px" width="8" height="13" viewBox="0 0 8 13"><path d="M6.5 1.5L1.5 6.5L6.5 11.5" stroke="#b8b8b8" stroke-width="2" fill="none"/></svg>
<svg class="a" style="left:1557px;top:201px" width="8" height="13" viewBox="0 0 8 13"><path d="M1.5 1.5L6.5 6.5L1.5 11.5" stroke="#b8b8b8" stroke-width="2" fill="none"/></svg>
<div class="a" style="left:1425px;top:248px;width:8px;height:8px;border-radius:50%;background:#9fd0f0;border:1px solid #bcdcf0"></div>
<div class="a" style="left:1440px;top:248px;width:8px;height:8px;border-radius:50%;border:1px solid #c8c8c8"></div>
<div class="a" style="left:1455px;top:248px;width:8px;height:8px;border-radius:50%;border:1px solid #c8c8c8"></div>
<div class="a" style="left:1470px;top:248px;width:8px;height:8px;border-radius:50%;border:1px solid #c8c8c8"></div>
<div class="a" style="left:1485px;top:248px;width:8px;height:8px;border-radius:50%;border:1px solid #c8c8c8"></div>
<div class="a" style="left:1500px;top:248px;width:8px;height:8px;border-radius:50%;border:1px solid #c8c8c8"></div>
<div class="sep" style="left:1344px;top:265px;width:242px;background:#dfe1e3"></div>
<div class="sep" style="left:1344px;top:326px;width:242px;background:#dfe1e3"></div>
<div class="sep" style="left:1344px;top:415px;width:242px;background:#dfe1e3"></div>
<div class="sep" style="left:1344px;top:451px;width:242px;background:#dfe1e3"></div>
<div class="sep" style="left:1344px;top:487px;width:242px;background:#dfe1e3"></div>
<div class="sep" style="left:1344px;top:571px;width:242px;background:#dfe1e3"></div>
<svg class="a" style="left:1359px;top:277px" width="13" height="13" viewBox="0 0 13 13"><rect x="0" y="0" width="13" height="13" rx="2" fill="#1a73e8"/><path d="M3 6.5L5.5 9L10 3.8" stroke="#fff" stroke-width="1.8" fill="none"/></svg>
<div class="t" style="left:1378px;top:278px;font-size:12px;color:#555;-webkit-text-stroke:0.3px #555">Заливка</div>
<div class="a" style="left:1449px;top:273px;width:69px;height:20px;background:#f0f0f0;border:1px solid #d0d0d0;border-radius:3px"></div>
<div class="t" style="left:1454px;top:277px;font-size:12px;color:#111">Auto</div>
<svg class="a" style="left:1503px;top:280px" width="10" height="7" viewBox="0 0 10 7"><path d="M1 1L5 5L9 1" stroke="#111" stroke-width="1.8" fill="none"/></svg>
<div class="a" style="left:1523px;top:273px;width:45px;height:20px;background:#eceef0;border:1px solid #dcdcdc;border-radius:3px"></div>
<div class="a" style="left:1527px;top:276px;width:23px;height:14px;background:#12aab5;border:1px solid #333"></div>
<svg class="a" style="left:1553px;top:276px" width="12" height="13" viewBox="0 0 12 13"><path d="M1 12L2 9L8 3L10 5L4 11Z M7.5 2L9.5 0.5L11.5 2.5L10 4.5" stroke="#444" stroke-width="1" fill="none"/></svg>
<div class="a" style="left:1359px;top:301px;width:13px;height:13px;border:1px solid #767676;border-radius:2px;background:#fff"></div>
<div class="t" style="left:1378px;top:302px;font-size:12px;color:#888">Градиент</div>
<div class="a" style="left:1359px;top:338px;width:13px;height:13px;border:1px solid #767676;border-radius:2px;background:#fff"></div>
<div class="t" style="left:1378px;top:338px;font-size:12px;font-weight:bold;color:#707070">Линия</div>
<div class="a" style="left:1368px;top:362px;width:132px;height:20px;background:#eceef0;border:1px solid #dddfe1;border-radius:3px"></div>
<div class="a" style="left:1378px;top:372px;width:102px;height:1px;background:#333"></div>
<svg class="a" style="left:1488px;top:369px" width="9" height="6" viewBox="0 0 9 6"><path d="M1 1L4.5 4.5L8 1" stroke="#999" stroke-width="1.2" fill="none"/></svg>
<div class="a" style="left:1506px;top:362px;width:51px;height:20px;background:#fff;border-radius:3px"></div><div class="t" style="left:1506px;top:366px;width:49px;text-align:right;font-size:12px;color:#111">1 pt</div><svg class="a" style="left:1558px;top:363px" width="10" height="18" viewBox="0 0 10 18"><path d="M1 7L5 3L9 7M1 11L5 15L9 11" stroke="#888" stroke-width="1" fill="none"/><path d="M0 9H10" stroke="#ccc" stroke-width="0.6"/></svg>
<div class="t" style="left:1378px;top:395px;font-size:12px;color:#888">По периметру</div>
<div class="a" style="left:1506px;top:390px;width:51px;height:20px;background:#fff;border-radius:3px"></div><div class="t" style="left:1506px;top:394px;width:49px;text-align:right;font-size:12px;color:#111">0 pt</div><svg class="a" style="left:1558px;top:391px" width="10" height="18" viewBox="0 0 10 18"><path d="M1 7L5 3L9 7M1 11L5 15L9 11" stroke="#888" stroke-width="1" fill="none"/><path d="M0 9H10" stroke="#ccc" stroke-width="0.6"/></svg>
<div class="t" style="left:1359px;top:427px;font-size:12px;font-weight:bold;color:#707070">Непрозрачность</div>
<div class="a" style="left:1506px;top:423px;width:51px;height:20px;background:#fff;border-radius:3px"></div><div class="t" style="left:1506px;top:427px;width:49px;text-align:right;font-size:12px;color:#111">100 %</div><svg class="a" style="left:1558px;top:424px" width="10" height="18" viewBox="0 0 10 18"><path d="M1 7L5 3L9 7M1 11L5 15L9 11" stroke="#888" stroke-width="1" fill="none"/><path d="M0 9H10" stroke="#ccc" stroke-width="0.6"/></svg>
<div class="a" style="left:1361px;top:464px;width:13px;height:13px;border:1px solid #767676;border-radius:2px;background:#fff"></div>
<div class="t" style="left:1380px;top:464px;font-size:12px;font-weight:bold;color:#707070">Набросок</div>
<div class="a" style="left:1469px;top:464px;width:13px;height:13px;border:1px solid #767676;border-radius:2px;background:#fff"></div>
<div class="t" style="left:1489px;top:464px;font-size:12px;font-weight:bold;color:#707070">Тень</div>
<div class="a" style="left:1360px;top:497px;width:208px;height:20px;background:#eceef0;border:1px solid #dcdee0;border-radius:3px"></div>
<div class="t" style="left:1360px;top:501px;width:194px;text-align:center;font-size:12px;color:#111">Правка</div>
<svg class="a" style="left:1553px;top:504px" width="10" height="7" viewBox="0 0 10 7"><path d="M1 1L5 5L9 1" stroke="#111" stroke-width="1.8" fill="none"/></svg>
<div class="a" style="left:1360px;top:520px;width:102px;height:19px;background:#eceef0;border:1px solid #dcdee0;border-radius:3px"></div>
<div class="t" style="left:1362px;top:524px;font-size:12px;color:#111">Копировать ст...</div>
<div class="a" style="left:1465px;top:520px;width:103px;height:19px;background:#eceef0;border:1px solid #dcdee0;border-radius:3px"></div>
<div class="t" style="left:1465px;top:524px;width:103px;text-align:center;font-size:12px;color:#111">Вставить стиль</div>
<div class="a" style="left:1360px;top:543px;width:208px;height:19px;background:#eceef0;border:1px solid #dcdee0;border-radius:3px"></div>
<div class="t" style="left:1360px;top:547px;width:208px;text-align:center;font-size:12px;color:#111">Установить как стиль по умолчанию</div>
<div class="a" style="left:1348px;top:572px;width:238px;height:23px;background:#e4e6e8"></div>
<svg class="a" style="left:1351px;top:581px" width="5" height="8" viewBox="0 0 5 8"><path d="M0 0V8L4.5 4Z" fill="#999"/></svg>
<div class="t" style="left:1361px;top:579px;font-size:12px;font-weight:bold;color:#111">Параметр</div>
<div class="t" style="left:1467px;top:579px;font-size:12px;font-weight:bold;color:#111">Значение</div>
<div class="sep" style="left:1348px;top:595px;width:238px;background:#dfe1e3"></div>
<div class="a" style="left:318px;top:96px;width:284px;height:510px;background:#f1f3f4;border:1px solid #d4d6d8;border-radius:0 0 6px 6px;box-shadow:0 2px 6px rgba(0,0,0,0.18)"></div>
<div class="a" style="left:322px;top:99px;width:278px;height:31px;background:#e0e1e2"></div>
<div class="t" style="left:352px;top:110px;font-size:13px;color:#2b2b2b">Язык</div>
<svg class="a" style="left:591px;top:112px" width="5" height="9" viewBox="0 0 5 9"><path d="M0.3 0.5V8.5L4.8 4.5Z" fill="#2a2a2a"/></svg>
<div class="t" style="left:352px;top:141px;font-size:13px;color:#2b2b2b">Appearance</div>
<svg class="a" style="left:591px;top:143px" width="5" height="9" viewBox="0 0 5 9"><path d="M0.3 0.5V8.5L4.8 4.5Z" fill="#2a2a2a"/></svg>
<div class="t" style="left:352px;top:172px;font-size:13px;color:#2b2b2b">Тема оформления</div>
<svg class="a" style="left:591px;top:174px" width="5" height="9" viewBox="0 0 5 9"><path d="M0.3 0.5V8.5L4.8 4.5Z" fill="#2a2a2a"/></svg>
<div class="a" style="left:322px;top:196px;width:278px;height:1px;background:#d6d8da"></div>
<div class="t" style="left:352px;top:209px;font-size:13px;color:#2b2b2b">Математический набор</div>
<svg class="a" style="left:506px;top:208px" width="14" height="14" viewBox="0 0 14 14"><circle cx="7" cy="7" r="6" fill="none" stroke="#888" stroke-width="1.2"/><path d="M5 5.5C5 3 9 3 9 5.5C9 7 7 7 7 8.8" stroke="#888" stroke-width="1.2" fill="none"/><circle cx="7" cy="10.7" r="0.8" fill="#888"/></svg>
<svg class="a" style="left:330px;top:208px" width="13" height="11" viewBox="0 0 13 11"><path d="M1 5.5L4.5 9L12 1.5" stroke="#555" stroke-width="1.8" fill="none"/></svg>
<div class="t" style="left:352px;top:240px;font-size:13px;color:#2b2b2b">Spell checker</div>
<div class="t" style="left:352px;top:271px;font-size:13px;color:#2b2b2b">Automatic Backup</div>
<svg class="a" style="left:330px;top:270px" width="13" height="11" viewBox="0 0 13 11"><path d="M1 5.5L4.5 9L12 1.5" stroke="#555" stroke-width="1.8" fill="none"/></svg>
<div class="t" style="left:352px;top:302px;font-size:13px;color:#2b2b2b">Drafts...</div>
<div class="a" style="left:322px;top:326px;width:278px;height:1px;background:#d6d8da"></div>
<div class="t" style="left:352px;top:340px;font-size:13px;color:#2b2b2b">Копировать при соединении</div>
<div class="t" style="left:352px;top:371px;font-size:13px;color:#2b2b2b">Свернуть/Развернуть</div>
<svg class="a" style="left:330px;top:370px" width="13" height="11" viewBox="0 0 13 11"><path d="M1 5.5L4.5 9L12 1.5" stroke="#555" stroke-width="1.8" fill="none"/></svg>
<div class="a" style="left:322px;top:395px;width:278px;height:1px;background:#d6d8da"></div>
<div class="t" style="left:352px;top:408px;font-size:13px;color:#b8b8b8">Автосохранение</div>
<div class="a" style="left:322px;top:432px;width:278px;height:1px;background:#d6d8da"></div>
<div class="t" style="left:352px;top:445px;font-size:13px;color:#2b2b2b">Плагины...</div>
<div class="a" style="left:322px;top:469px;width:278px;height:1px;background:#d6d8da"></div>
<div class="t" style="left:352px;top:484px;font-size:13px;color:#2b2b2b">Редактировать диаграмму...</div>
<div class="t" style="left:352px;top:514px;font-size:13px;color:#2b2b2b">Diagram Language</div>
<svg class="a" style="left:591px;top:516px" width="5" height="9" viewBox="0 0 5 9"><path d="M0.3 0.5V8.5L4.8 4.5Z" fill="#2a2a2a"/></svg>
<div class="a" style="left:322px;top:537px;width:278px;height:1px;background:#d6d8da"></div>
<div class="t" style="left:352px;top:551px;font-size:13px;color:#2b2b2b">Показать начальный экран</div>
<svg class="a" style="left:330px;top:550px" width="13" height="11" viewBox="0 0 13 11"><path d="M1 5.5L4.5 9L12 1.5" stroke="#555" stroke-width="1.8" fill="none"/></svg>
<div class="t" style="left:352px;top:582px;font-size:13px;color:#2b2b2b">Настройка...</div>
<div class="a" style="left:599px;top:33px;width:235px;height:818px;background:#f1f3f4;border:1px solid #d4d6d8;border-radius:3px;box-shadow:0 2px 6px rgba(0,0,0,0.18)"></div>
<div class="a" style="left:826px;top:38px;width:4px;height:500px;background:#d0d2d4;border-radius:2px"></div>
<div class="t" style="left:633px;top:47px;font-size:13px;color:#2b2b2b">Автоматически</div>
<div class="a" style="left:603px;top:71px;width:217px;height:1px;background:#d6d8da"></div>
<div class="t" style="left:633px;top:84.5px;font-size:12.6px;color:#2b2b2b">Bahasa Indonesia</div>
<div class="t" style="left:633px;top:115.5px;font-size:12.6px;color:#2b2b2b">Bahasa Melayu</div>
<div class="t" style="left:633px;top:146.5px;font-size:12.6px;color:#2b2b2b">Bosanski</div>
<div class="t" style="left:633px;top:177.5px;font-size:12.6px;color:#2b2b2b">Bulgarian</div>
<div class="t" style="left:633px;top:208.5px;font-size:12.6px;color:#2b2b2b">Català</div>
<div class="t" style="left:633px;top:239.5px;font-size:12.6px;color:#2b2b2b">Čeština</div>
<div class="t" style="left:633px;top:270.5px;font-size:12.6px;color:#2b2b2b">Dansk</div>
<div class="t" style="left:633px;top:301.5px;font-size:12.6px;color:#2b2b2b">Deutsch</div>
<div class="t" style="left:633px;top:332.5px;font-size:12.6px;color:#2b2b2b">Eesti</div>
<div class="t" style="left:633px;top:363.5px;font-size:12.6px;color:#2b2b2b">English</div>
<div class="t" style="left:633px;top:394.5px;font-size:12.6px;color:#2b2b2b">Español</div>
<div class="t" style="left:633px;top:425.5px;font-size:12.6px;color:#2b2b2b">Euskara</div>
<div class="t" style="left:633px;top:456.5px;font-size:12.6px;color:#2b2b2b">Filipino</div>
<div class="t" style="left:633px;top:487.5px;font-size:12.6px;color:#2b2b2b">Français</div>
<div class="t" style="left:633px;top:518.5px;font-size:12.6px;color:#2b2b2b">Galego</div>
<div class="t" style="left:633px;top:549.5px;font-size:12.6px;color:#2b2b2b">Italiano</div>
<div class="t" style="left:633px;top:580.5px;font-size:12.6px;color:#2b2b2b">Magyar</div>
<div class="t" style="left:633px;top:611.5px;font-size:12.6px;color:#2b2b2b">Lietuvių</div>
<div class="t" style="left:633px;top:642.5px;font-size:12.6px;color:#2b2b2b">Latviešu</div>
<div class="t" style="left:633px;top:673.5px;font-size:12.6px;color:#2b2b2b">Nederlands</div>
<div class="t" style="left:633px;top:704.5px;font-size:12.6px;color:#2b2b2b">Norsk</div>
<div class="t" style="left:633px;top:735.5px;font-size:12.6px;color:#2b2b2b">Polski</div>
<div class="t" style="left:633px;top:766.5px;font-size:12.6px;color:#2b2b2b">Português (Brasil)</div>
<div class="t" style="left:633px;top:797.5px;font-size:12.6px;color:#2b2b2b">Português (Portugal)</div>
<div class="t" style="left:633px;top:828.5px;font-size:12.6px;color:#2b2b2b">Română</div>
<div class="a" style="left:0;top:0;width:1586px;height:853px;border:1px solid #14598a;border-top-color:#0078d4;border-bottom-color:#0a5ea8;border-radius:7px;box-shadow:0 0 0 12px #cdd3d8"></div><div class="a" style="left:0;top:7px;width:1px;height:24px;background:#0078d4"></div><div class="a" style="left:1585px;top:7px;width:1px;height:24px;background:#0078d4"></div>
</body></html>
